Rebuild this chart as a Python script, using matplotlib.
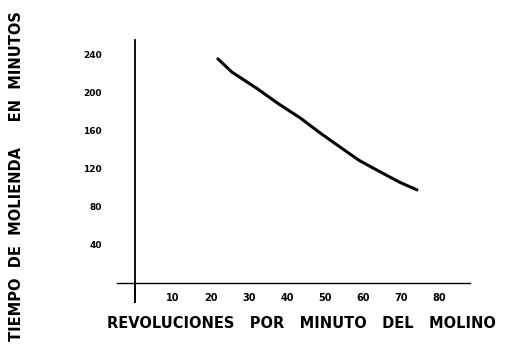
import numpy as np
import matplotlib.pyplot as plt

# revoluciones por minuto vs tiempo de molienda
rpm = [21.8, 25.5, 32, 38, 43.4, 48.7, 54, 59, 64.5, 69.7, 74.2]
tiempo = [236, 222, 205, 188, 174, 158, 143, 129, 117, 106, 98]

x_ticks = [10, 20, 30, 40, 50, 60, 70, 80]
y_ticks = [40, 80, 120, 160, 200, 240]

W, H = 511, 353
fig = plt.figure(figsize=(W / 100, H / 100), dpi=100)

# ejes: origen en pixel (135, 283), 3.8 px por rpm, 0.95 px por minuto
x0, x1 = -4.7, 88.2
y0, y1 = -20, 255.8
left = 135 + 3.8 * x0
right = 135 + 3.8 * x1
top = 283 - 0.95 * y1
bottom = 283 - 0.95 * y0
ax = fig.add_axes([left / W, 1 - bottom / H, (right - left) / W, (bottom - top) / H])
ax.set_xlim(x0, x1)
ax.set_ylim(y0, y1)

for s in ["top", "right"]:
    ax.spines[s].set_visible(False)
ax.spines["left"].set_position(("data", 0))
ax.spines["bottom"].set_position(("data", 0))
ax.spines["left"].set_linewidth(1.3)
ax.spines["bottom"].set_linewidth(1.0)

ax.plot(rpm, tiempo, color="black", linewidth=2.2, solid_capstyle="round")

ax.set_xticks(x_ticks)
ax.set_xticklabels([str(v) for v in x_ticks], fontsize=7, fontweight="bold")
ax.set_yticks(y_ticks)
ax.set_yticklabels([str(v) for v in y_ticks], fontsize=6.5, fontweight="bold")
ax.tick_params(axis="x", length=0, pad=7)
ax.tick_params(axis="y", length=0, pad=24)

ax.plot([0, 0], [0, y0], color="black", linewidth=1.3, clip_on=False)

fig.text(17 / W, 1 - 176 / H, "TIEMPO  DE  MOLIENDA     EN  MINUTOS", rotation=90,
         ha="center", va="center", fontsize=10.5, fontweight="bold")
fig.text(301 / W, 1 - 324 / H, "REVOLUCIONES   POR   MINUTO   DEL   MOLINO",
         ha="center", va="center", fontsize=10.5, fontweight="bold")

fig.savefig("out.png", dpi=100)
